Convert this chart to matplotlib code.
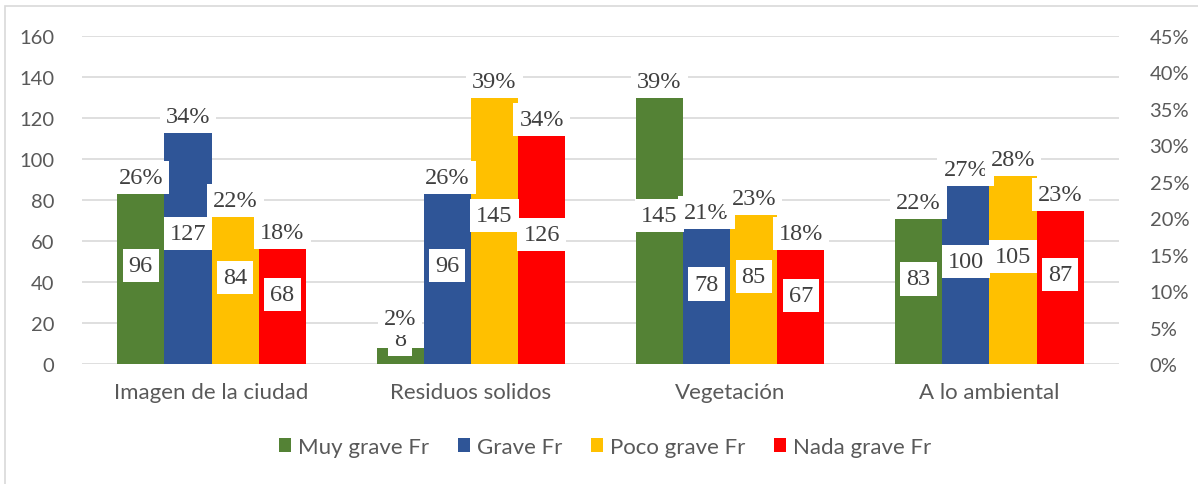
import matplotlib
matplotlib.use("Agg")
import matplotlib.pyplot as plt
import numpy as np
from matplotlib.patches import Patch, Rectangle

categories = ["Imagen de la ciudad", "Residuos solidos", "Vegetación", "A lo ambiental"]
series_names = ["Muy grave Fr", "Grave Fr", "Poco grave Fr", "Nada grave Fr"]

# frequencies (left axis)
muy_grave = [96, 8, 145, 83]
grave = [127, 96, 78, 100]
poco_grave = [84, 145, 85, 105]
nada_grave = [68, 126, 67, 87]

# percentages (right axis), as shown in the labels
muy_grave_pct = [25.6, 2.1, 38.7, 22.1]
grave_pct = [33.9, 25.6, 20.8, 26.7]
poco_grave_pct = [22.4, 38.7, 22.7, 28.0]
nada_grave_pct = [18.1, 33.6, 17.9, 23.2]

freqs = [muy_grave, grave, poco_grave, nada_grave]
pcts = [muy_grave_pct, grave_pct, poco_grave_pct, nada_grave_pct]
colors = ["#548235", "#2F5597", "#FFC000", "#FF0000"]

GRAY = "#595959"
LABEL_COLOR = "#404040"
TICK_FONT = ["Lato", "DejaVu Sans"]
LABEL_FONT = ["Liberation Serif", "DejaVu Serif"]

fig = plt.figure(figsize=(11.98, 4.85), dpi=100)
ax = fig.add_axes([82 / 1198, 1 - 365 / 485, (1119 - 82) / 1198, (365 - 37) / 485])
ax2 = ax.twinx()

x = np.arange(len(categories))
width = 0.182

for i, (f, p, c) in enumerate(zip(freqs, pcts, colors)):
    xs = x + (i - 1.5) * width
    ax.bar(xs, f, width=width, color=c, linewidth=0, zorder=2)
    ax2.bar(xs, p, width=width, color=c, linewidth=0, zorder=2)

box = dict(boxstyle="square,pad=0.25", facecolor="white", edgecolor="none")

# frequency labels (centered in the bar), drawn on ax2 so they sit above the % bars
for i, f in enumerate(freqs):
    for j, v in enumerate(f):
        ax2.text(x[j] + (i - 1.5) * width, max(v / 2, 12), str(v),
                 transform=ax.transData, ha="center", va="center",
                 fontsize=17.5, family=LABEL_FONT, color=LABEL_COLOR,
                 bbox=box, zorder=5)

# percentage labels around the top of the % bars
for i, p in enumerate(pcts):
    for j, v in enumerate(p):
        ax2.text(x[j] + (i - 1.5) * width, max(v, 6.2), f"{round(v):.0f}%",
                 ha="center", va="center",
                 fontsize=17.5, family=LABEL_FONT, color=LABEL_COLOR,
                 bbox=box, zorder=6)

ax.set_xlim(-0.5, len(categories) - 0.5)
ax.set_ylim(0, 160)
ax2.set_ylim(0, 45)
ax.set_yticks(np.arange(0, 161, 20))
ax2.set_yticks(np.arange(0, 46, 5))
ax2.set_yticklabels([f"{t}%" for t in range(0, 46, 5)])
ax.set_xticks(x)
ax.set_xticklabels(categories)

ax.grid(axis="y", color="#D9D9D9", linewidth=1.2, zorder=0)
ax.set_axisbelow(True)
for a in (ax, ax2):
    for s in a.spines.values():
        s.set_visible(False)
    a.tick_params(length=0, colors=GRAY, labelsize=14.5)
    for lbl in a.get_xticklabels() + a.get_yticklabels():
        lbl.set_family(TICK_FONT)
ax.tick_params(axis="y", pad=20)
ax2.tick_params(axis="y", pad=22)
ax.tick_params(axis="x", pad=13, labelsize=16)

handles = [Patch(facecolor=c, edgecolor="none", label=n) for c, n in zip(colors, series_names)]
leg = fig.legend(handles=handles, loc="center", bbox_to_anchor=(605 / 1198, 1 - 448 / 485),
                 ncol=4, frameon=False, handlelength=0.55, handleheight=0.55,
                 handletextpad=0.3, columnspacing=1.3,
                 prop={"family": TICK_FONT, "size": 16})
for t in leg.get_texts():
    t.set_color(GRAY)

# outer chart frame
fig.patches.append(Rectangle((5 / 1198, -0.05), 1.2, 1 - 7 / 485 + 0.05,
                             transform=fig.transFigure, fill=False,
                             edgecolor="#D9D9D9", linewidth=1.2))

fig.savefig("out.png", dpi=100)
